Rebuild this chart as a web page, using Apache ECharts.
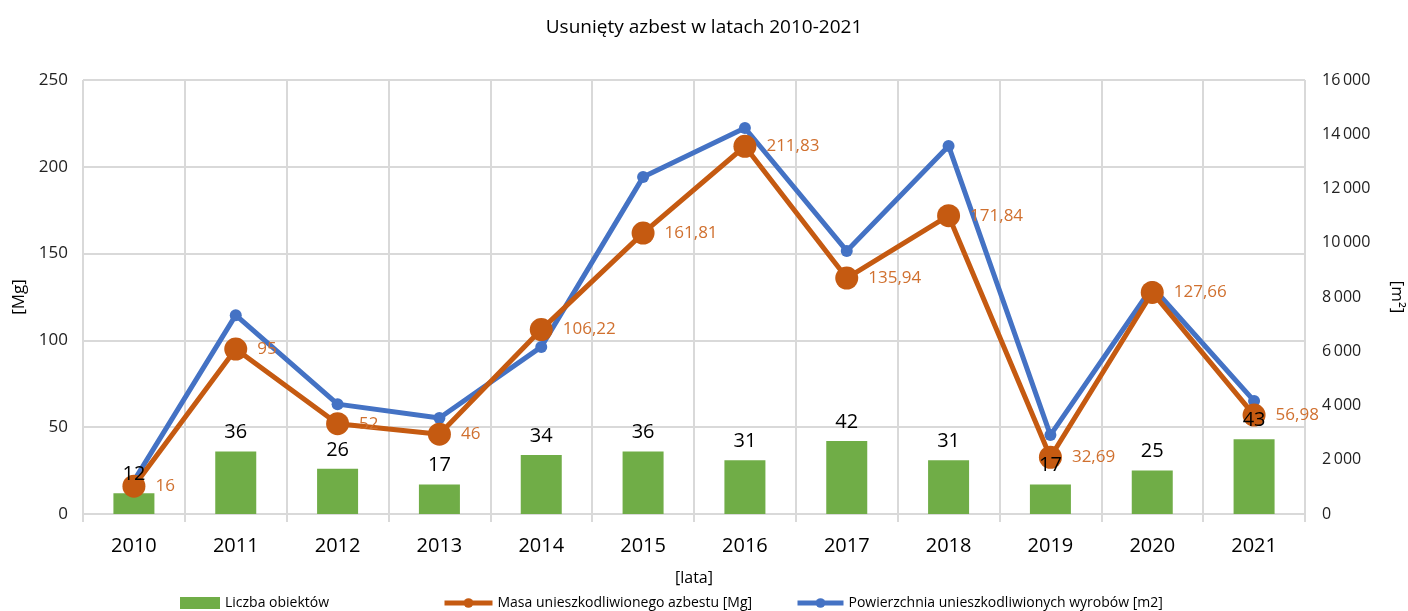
<!DOCTYPE html>
<html>
<head>
<meta charset="utf-8">
<script src="https://cdn.jsdelivr.net/npm/echarts@6/dist/echarts.min.js"></script>
<style>
  html, body { margin: 0; padding: 0; background: #fff; }
  #chart { width: 1408px; height: 611px; }
</style>
</head>
<body>
<div id="chart"></div>
<script>
// dane
var lata = ['2010', '2011', '2012', '2013', '2014', '2015', '2016', '2017', '2018', '2019', '2020', '2021'];
var liczbaObiektow = [12, 36, 26, 17, 34, 36, 31, 42, 31, 17, 25, 43];
var masaAzbestu = [16, 95, 52, 46, 106.22, 161.81, 211.83, 135.94, 171.84, 32.69, 127.66, 56.98];
var powierzchnia = [1220, 7330, 4050, 3540, 6160, 12420, 14230, 9700, 13570, 2910, 8370, 4170];

var fontName = '"Open Sans", "Noto Sans", sans-serif';

function fmtPL(v) {
  return String(v).replace('.', ',');
}
function fmtTys(v) {
  var s = String(v);
  if (s.length > 3) s = s.slice(0, s.length - 3) + '\u2009' + s.slice(s.length - 3);
  return s;
}

// jedna pozycja legendy (Excel rozkłada je nierówno)
function legendItem(name, left, icon, w) {
  return {
    bottom: -4,
    left: left,
    itemWidth: w,
    itemHeight: 12,
    itemGap: 0,
    textStyle: { fontSize: 14, color: '#000' },
    lineStyle: { width: 5 },
    data: [icon ? { name: name, icon: icon } : { name: name }]
  };
}

var chart = echarts.init(document.getElementById('chart'));
chart.setOption({
  animation: false,
  textStyle: { fontFamily: fontName },
  title: {
    text: 'Usunięty azbest w latach 2010-2021',
    left: 'center',
    top: 13,
    textStyle: { fontSize: 19, fontWeight: 'normal', color: '#000', fontFamily: fontName }
  },
  legend: [
    legendItem('Liczba obiektów', 175, 'rect', 40),
    legendItem('Masa unieszkodliwionego azbestu [Mg]', 437, null, 48),
    legendItem('Powierzchnia unieszkodliwionych wyrobów [m2]', 790, null, 46)
  ],
  grid: { left: 83, right: 103, top: 80, bottom: 97, outerBoundsMode: 'none', containLabel: false },
  xAxis: {
    type: 'category',
    data: lata,
    name: '[lata]',
    nameLocation: 'middle',
    nameGap: 56,
    nameTextStyle: { fontSize: 16, color: '#000' },
    axisLine: { lineStyle: { color: '#d9d9d9', width: 2 } },
    axisTick: { show: true, length: 8, lineStyle: { color: '#d9d9d9', width: 2 } },
    axisLabel: { fontSize: 20, color: '#000', margin: 22 },
    splitLine: { show: true, lineStyle: { color: '#d9d9d9', width: 2 } }
  },
  yAxis: [
    {
      type: 'value',
      min: 0, max: 250, interval: 50,
      name: '[Mg]',
      nameLocation: 'middle',
      nameGap: 52,
      nameTextStyle: { fontSize: 17, color: '#000' },
      axisLine: { show: false },
      axisTick: { show: false },
      axisLabel: { fontSize: 17, color: '#222', margin: 15 },
      splitLine: { lineStyle: { color: '#d9d9d9', width: 2 } }
    },
    {
      type: 'value',
      min: 0, max: 16000, interval: 2000,
      name: '[m\u00b2]',
      nameLocation: 'middle',
      nameGap: 83,
      nameRotate: -90,
      nameTextStyle: { fontSize: 17, color: '#000' },
      axisLine: { show: false },
      axisTick: { show: false },
      axisLabel: { fontSize: 16, color: '#222', margin: 17, formatter: fmtTys },
      splitLine: { show: false }
    }
  ],
  series: [
    {
      name: 'Liczba obiektów',
      type: 'bar',
      yAxisIndex: 0,
      data: liczbaObiektow,
      barWidth: 41,
      itemStyle: { color: '#70ad47' },
      z: 2
    },
    {
      // tylko etykiety słupków, rysowane nad liniami
      name: 'etykiety',
      type: 'bar',
      yAxisIndex: 0,
      data: liczbaObiektow,
      barWidth: 41,
      barGap: '-100%',
      itemStyle: { color: 'rgba(0,0,0,0)' },
      label: { show: true, position: 'top', distance: 9, fontSize: 20, color: '#000' },
      silent: true,
      z: 10
    },
    {
      name: 'Powierzchnia unieszkodliwionych wyrobów [m2]',
      type: 'line',
      yAxisIndex: 1,
      data: powierzchnia,
      symbol: 'circle',
      symbolSize: 12,
      lineStyle: { color: '#4472c4', width: 5 },
      itemStyle: { color: '#4472c4' },
      z: 3
    },
    {
      name: 'Masa unieszkodliwionego azbestu [Mg]',
      type: 'line',
      yAxisIndex: 0,
      data: masaAzbestu,
      symbol: 'circle',
      symbolSize: 23,
      lineStyle: { color: '#c55a11', width: 5 },
      itemStyle: { color: '#c55a11' },
      label: {
        show: true, position: 'right', distance: 10,
        fontSize: 17, color: '#d0702f',
        formatter: function (p) { return fmtPL(p.value); }
      },
      z: 4
    }
  ]
});
</script>
</body>
</html>
